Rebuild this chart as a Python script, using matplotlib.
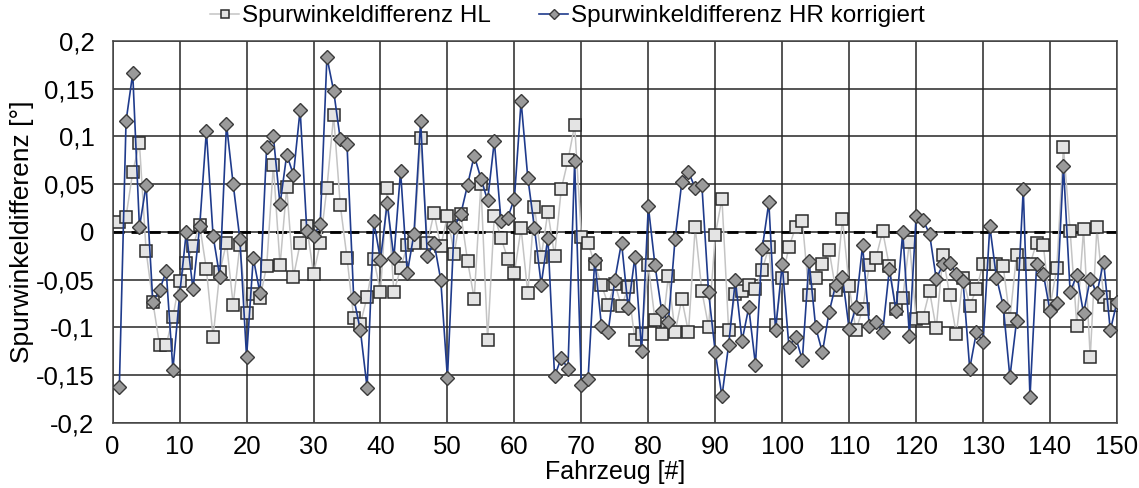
import matplotlib
matplotlib.use("Agg")
import matplotlib.pyplot as plt
from matplotlib.ticker import FuncFormatter, MultipleLocator

plt.rcParams['font.family'] = ['Liberation Sans', 'DejaVu Sans']

fahrzeug = list(range(1, 151))

hl = [
    0.010, 0.016, 0.063, 0.093, -0.020, -0.073, -0.118, -0.118, -0.089, -0.051,
    -0.032, -0.015, 0.007, -0.039, -0.110, -0.042, -0.011, -0.076, -0.014, -0.085,
    -0.065, -0.069, -0.036, 0.070, -0.035, 0.047, -0.047, -0.012, 0.006, -0.044,
    -0.012, 0.046, 0.122, 0.028, -0.027, -0.090, -0.096, -0.068, -0.028, -0.063,
    0.046, -0.063, -0.038, -0.014, -0.011, 0.098, -0.011, 0.020, -0.015, 0.017,
    -0.023, 0.019, -0.030, -0.070, 0.050, -0.113, 0.017, -0.006, -0.028, -0.043,
    0.004, -0.064, 0.026, -0.026, 0.021, -0.025, 0.045, 0.075, 0.112, -0.005,
    -0.011, -0.034, -0.055, -0.076, -0.054, -0.078, -0.058, -0.113, -0.107, -0.035,
    -0.092, -0.107, -0.046, -0.105, -0.070, -0.105, 0.005, -0.062, -0.099, -0.003,
    0.035, -0.103, -0.065, -0.062, -0.055, -0.060, -0.040, -0.016, -0.097, -0.048,
    -0.016, 0.005, 0.012, -0.066, -0.048, -0.034, -0.019, -0.061, 0.014, -0.057,
    -0.103, -0.081, -0.035, -0.027, 0.001, -0.036, -0.081, -0.069, -0.010, -0.091,
    -0.090, -0.062, -0.101, -0.024, -0.066, -0.107, -0.048, -0.077, -0.060, -0.033,
    -0.034, -0.033, -0.036, -0.091, -0.024, -0.033, -0.034, -0.011, -0.014, -0.078,
    -0.038, 0.089, 0.001, -0.098, 0.003, -0.131, 0.005, -0.068, -0.076, -0.076,
]

hr_korr = [
    -0.162, 0.116, 0.166, 0.005, 0.049, -0.073, -0.061, -0.041, -0.144, -0.066,
    0.000, -0.060, 0.006, 0.106, -0.004, -0.047, 0.113, 0.050, -0.007, -0.131,
    -0.027, -0.064, 0.089, 0.100, 0.029, 0.081, 0.060, 0.128, 0.001, -0.004,
    0.008, 0.183, 0.148, 0.097, 0.092, -0.069, -0.103, -0.163, 0.011, -0.029,
    0.030, -0.027, 0.064, -0.043, -0.002, 0.116, -0.025, -0.011, -0.050, -0.153,
    0.005, 0.019, 0.049, 0.080, 0.056, 0.033, 0.095, 0.012, 0.015, 0.035,
    0.137, 0.057, 0.004, -0.055, -0.006, -0.151, -0.132, -0.143, 0.074, -0.160,
    -0.154, -0.029, -0.098, -0.105, -0.050, -0.011, -0.080, -0.026, -0.125, 0.027,
    -0.035, -0.083, -0.094, -0.007, 0.052, 0.063, 0.046, 0.049, -0.063, -0.126,
    -0.172, -0.118, -0.050, -0.114, -0.079, -0.139, -0.018, 0.031, -0.103, -0.034,
    -0.120, -0.110, -0.134, -0.030, -0.100, -0.126, -0.084, -0.055, -0.047, -0.102,
    -0.079, -0.014, -0.098, -0.094, -0.105, -0.039, -0.083, 0.000, -0.109, 0.017,
    0.013, -0.002, -0.049, -0.034, -0.032, -0.044, -0.051, -0.143, -0.105, -0.115,
    0.006, -0.048, -0.077, -0.152, -0.093, 0.045, -0.173, -0.034, -0.044, -0.083,
    -0.074, 0.069, -0.063, -0.045, -0.085, -0.049, -0.064, -0.031, -0.103, -0.073,
]

fig = plt.figure(figsize=(11.39, 4.88), dpi=100)
ax = fig.add_axes([0.0989, 0.1332, 0.8818, 0.7828])

ax.set_xlim(0, 150)
ax.set_ylim(-0.2, 0.2)
ax.xaxis.set_major_locator(MultipleLocator(10))
ax.yaxis.set_major_locator(MultipleLocator(0.05))


def komma(v, pos):
    if abs(v) < 1e-9:
        return "0"
    s = f"{v:.2f}".rstrip("0")
    return s.replace(".", ",")


ax.yaxis.set_major_formatter(FuncFormatter(komma))
ax.grid(True, color='#262626', linewidth=1.1, zorder=0)
ax.set_axisbelow(True)
ax.axhline(0, color='black', linewidth=2.0, linestyle=(0, (4, 2.5)), zorder=1)

for sp in ax.spines.values():
    sp.set_color('#444444')
    sp.set_linewidth(1.1)

ax.plot(fahrzeug, hl, color='#c4c4c4', linewidth=1.1, marker='s',
        markersize=8, markerfacecolor='#e4e4e4', markeredgecolor='#2b2b2b',
        markeredgewidth=1.1, label='Spurwinkeldifferenz HL', zorder=3)
ax.plot(fahrzeug, hr_korr, color='#1f3b8c', linewidth=1.2, marker='D',
        markersize=6.8, markerfacecolor='#9a9a9a', markeredgecolor='#3a3a3a',
        markeredgewidth=1.0, label='Spurwinkeldifferenz HR korrigiert', zorder=4)

ax.tick_params(axis='y', labelsize=18.5, length=0, pad=13)
ax.tick_params(axis='x', labelsize=18.5, length=0, pad=9)
ax.set_xlabel('Fahrzeug [#]', fontsize=18)
ax.set_ylabel('Spurwinkeldifferenz [°]', fontsize=19)
ax.xaxis.set_label_coords(0.5, -0.098)
ax.yaxis.set_label_coords(-0.078, 0.5)

fig.legend(loc='center left', bbox_to_anchor=(210 / 1139, 1 - 16 / 488),
           ncol=2, frameon=False, fontsize=17.5, handlelength=1.2,
           handletextpad=0.1, columnspacing=2.0, markerscale=0.7,
           borderaxespad=0, borderpad=0)

fig.savefig('out.png', dpi=100)
